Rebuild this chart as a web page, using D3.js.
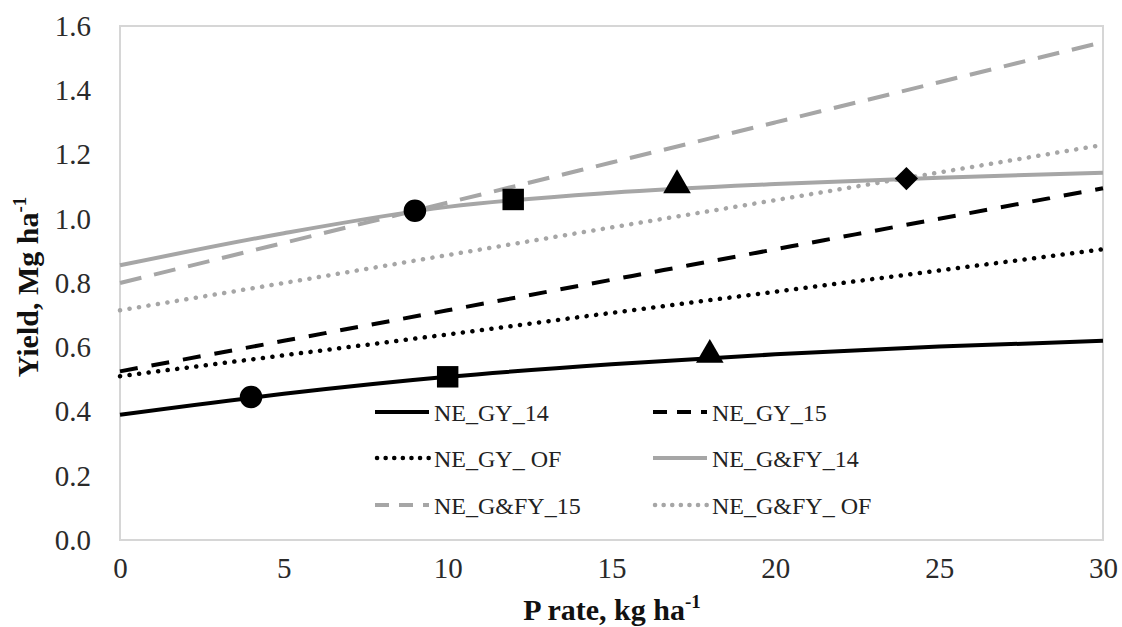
<!DOCTYPE html>
<html>
<head>
<meta charset="utf-8">
<script src="https://cdn.jsdelivr.net/npm/d3@7"></script>
<style>
  body { margin: 0; background: #fff; }
  svg { display: block; }
  svg text { font-family: "Liberation Serif", "Times New Roman", Times, "DejaVu Serif", "Noto Serif", serif; }
</style>
</head>
<body>
<svg id="chart" width="1122" height="627"></svg>
<script>
// P rate values where each curve was read
const pRate = [0, 5, 10, 15, 20, 25, 30];

// yield readings, Mg ha-1
const gy14 = [0.39, 0.455, 0.508, 0.547, 0.578, 0.602, 0.62];
const gy15 = [0.525, 0.62, 0.715, 0.81, 0.905, 1.0, 1.095];
const gyOF = [0.51, 0.575, 0.64, 0.707, 0.773, 0.839, 0.905];
const gfy14 = [0.855, 0.955, 1.037, 1.081, 1.108, 1.128, 1.143];
const gfy15 = [0.80, 0.925, 1.05, 1.175, 1.30, 1.425, 1.55];
const gfyOF = [0.715, 0.80, 0.887, 0.973, 1.058, 1.144, 1.23];

// marked points on the two 2014 curves
const gy14MarkX = [4, 10, 18];
const gy14MarkY = [0.445, 0.508, 0.567];
const gy14MarkShape = ["circle", "square", "triangle"];
const gfy14MarkX = [9, 12, 17, 24];
const gfy14MarkY = [1.025, 1.06, 1.095, 1.125];
const gfy14MarkShape = ["circle", "square", "triangle", "diamond"];

const xTicks = [0, 5, 10, 15, 20, 25, 30];
const yTicks = [0, 0.2, 0.4, 0.6, 0.8, 1.0, 1.2, 1.4, 1.6];

const black = "#000";
const grey = "#a6a6a6";

const series = [
  { name: "NE_GY_14", values: gy14, color: black, dash: null },
  { name: "NE_GY_15", values: gy15, color: black, dash: "18,14" },
  { name: "NE_GY_ OF", values: gyOF, color: black, dash: "0.1,9.5" },
  { name: "NE_G&FY_14", values: gfy14, color: grey, dash: null },
  { name: "NE_G&FY_15", values: gfy15, color: grey, dash: "22,13" },
  { name: "NE_G&FY_ OF", values: gfyOF, color: grey, dash: "0.1,9.5" }
];

//plot box edges
const plotLeft = 120, plotRight = 1103, plotTop = 26, plotBottom = 540;

const x = d3.scaleLinear().domain([0, 30]).range([plotLeft, plotRight]);
const y = d3.scaleLinear().domain([0, 1.6]).range([plotBottom, plotTop]);

const svg = d3.select("#chart");

// plot frame
svg.append("rect")
  .attr("x", plotLeft).attr("y", plotTop)
  .attr("width", plotRight - plotLeft).attr("height", plotBottom - plotTop)
  .attr("fill", "none")
  .attr("stroke", "#d6d6d6")
  .attr("stroke-width", 2);

// axes (labels only, no tick marks)
const yAxis = svg.append("g")
  .attr("transform", `translate(${plotLeft},0)`)
  .call(d3.axisLeft(y).tickValues(yTicks).tickFormat(d3.format(".1f")).tickSize(0).tickPadding(29));
const xAxis = svg.append("g")
  .attr("transform", `translate(0,${plotBottom})`)
  .call(d3.axisBottom(x).tickValues(xTicks).tickFormat(d3.format("d")).tickSize(0).tickPadding(17));
[yAxis, xAxis].forEach(function (a) {
  a.attr("font-family", null);
  a.select(".domain").remove();
  a.selectAll("text")
    .attr("font-size", 29)
    .attr("fill", "#2a2a2a");
});

// lines
const line = d3.line()
  .x(function (d, i) { return x(pRate[i]); })
  .y(function (d) { return y(d); })
  .curve(d3.curveMonotoneX);

const isDotted = function (d) { return d.dash && d.dash.startsWith("0.1"); };

svg.append("g")
  .selectAll("path")
  .data(series)
  .join("path")
  .attr("d", function (d) { return line(d.values); })
  .attr("fill", "none")
  .attr("stroke", function (d) { return d.color; })
  .attr("stroke-width", function (d) { return isDotted(d) ? 4.5 : 4; })
  .attr("stroke-linecap", function (d) { return isDotted(d) ? "round" : "butt"; })
  .attr("stroke-dasharray", function (d) { return d.dash; });

// markers (diamond = rotated square)
const symbolType = {
  circle: [d3.symbolCircle, 400, 0],
  square: [d3.symbolSquare, 460, 0],
  triangle: [d3.symbolTriangle, 330, 0],
  diamond: [d3.symbolSquare, 270, 45]
};
const marks = [];
gy14MarkX.forEach(function (v, i) { marks.push({ x: v, y: gy14MarkY[i], s: gy14MarkShape[i] }); });
gfy14MarkX.forEach(function (v, i) { marks.push({ x: v, y: gfy14MarkY[i], s: gfy14MarkShape[i] }); });

svg.append("g")
  .selectAll("path")
  .data(marks)
  .join("path")
  .attr("transform", function (d) {
    const dy = d.s === "triangle" ? -3 : 0;
    return `translate(${x(d.x)},${y(d.y) + dy}) rotate(${symbolType[d.s][2]})`;
  })
  .attr("d", function (d) {
    return d3.symbol().type(symbolType[d.s][0]).size(symbolType[d.s][1])();
  })
  .attr("fill", black);

// legend, two columns
const legendCols = [375, 653];
const legendRows = [412, 458, 505];
const legend = svg.append("g")
  .selectAll("g")
  .data(series)
  .join("g")
  .attr("transform", function (d, i) {
    return `translate(${legendCols[i % 2]},${legendRows[Math.floor(i / 2)]})`;
  });
legend.append("rect")
  .attr("x", -6).attr("y", -20).attr("width", 280).attr("height", 38)
  .attr("fill", "#fff");
legend.append("line")
  .attr("x1", function (d) { return isDotted(d) ? 2 : 0; })
  .attr("x2", 54)
  .attr("y1", 0).attr("y2", 0)
  .attr("stroke", function (d) { return d.color; })
  .attr("stroke-width", function (d) { return isDotted(d) ? 4.5 : 4; })
  .attr("stroke-linecap", function (d) { return isDotted(d) ? "round" : "butt"; })
  .attr("stroke-dasharray", function (d) {
    if (!d.dash) return null;
    return isDotted(d) ? "0.1,8.5" : "14,10";
  });
legend.append("text")
  .attr("x", 59).attr("y", 9)
  .attr("font-size", 24)
  .attr("fill", "#222")
  .text(function (d) { return d.name; });

// axis titles
const yTitle = svg.append("text")
  .attr("transform", "translate(38,287) rotate(-90)")
  .attr("text-anchor", "middle")
  .attr("font-size", 30)
  .attr("font-weight", "bold")
  .attr("fill", "#111");
yTitle.append("tspan").text("Yield, Mg ha");
yTitle.append("tspan").attr("dy", -12).attr("font-size", 19).text("-1");

const xTitle = svg.append("text")
  .attr("x", 612).attr("y", 620)
  .attr("text-anchor", "middle")
  .attr("font-size", 30)
  .attr("font-weight", "bold")
  .attr("fill", "#111");
xTitle.append("tspan").text("P rate, kg ha");
xTitle.append("tspan").attr("dy", -12).attr("font-size", 19).text("-1");
</script>
</body>
</html>
